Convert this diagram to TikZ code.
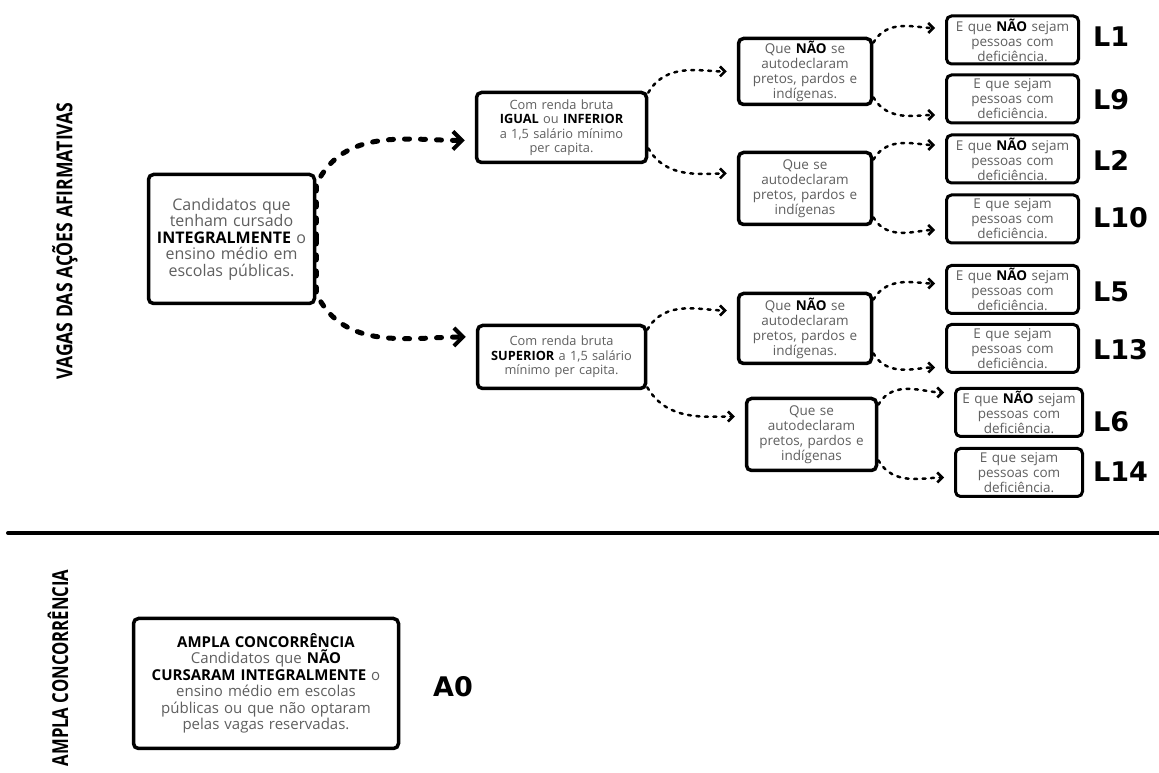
\documentclass[tikz,border=0pt]{standalone}
\usepackage{fontspec}
\setmainfont{Open Sans}
\newfontfamily\labelfont{DejaVu Sans}
\usetikzlibrary{arrows.meta}
\definecolor{txtgray}{RGB}{95,95,95}
\newcommand{\bk}[1]{\textbf{\color{black}#1}}
\begin{document}
\begin{tikzpicture}[x=1pt,y=1pt]
\tikzstyle{box}=[draw,line width=3.5pt,rounded corners=5pt,align=center,inner sep=0pt,text=txtgray,fill=white]
\tikzstyle{big}=[box,font=\fontsize{16}{16.5}\selectfont]
\tikzstyle{mid}=[box,font=\fontsize{13.5}{15}\selectfont]
\tikzstyle{sml}=[box,line width=3pt,font=\fontsize{13.5}{15}\selectfont,minimum height=48pt]
\tikzstyle{lab}=[anchor=west,inner sep=0pt,font=\labelfont\bfseries\fontsize{27}{27}\selectfont]
\tikzstyle{title}=[rotate=90,font=\bfseries\fontsize{22}{22}\selectfont]
\tikzstyle{thick arrow}=[line width=5pt,line cap=round,dash pattern=on 5pt off 11pt,-{Straight Barb[length=9pt,width=18pt,line width=4pt]},shorten >=10pt]
\tikzstyle{thin arrow}=[line width=2.5pt,line cap=round,dash pattern=on 3pt off 5.5pt,-{Straight Barb[length=5pt,width=10pt,line width=2.5pt]},shorten >=10pt]
\useasboundingbox (0,0) rectangle (1159,773);
\fill[white] (0,0) rectangle (1159,773);
% titles
\node[title](t1) at (65,532) {\scalebox{0.8}[1]{VAGAS DAS AÇÕES AFIRMATIVAS}};
\node[title,anchor=east](t2) at (58,207) {\scalebox{0.76}[1]{AMPLA CONCORRÊNCIA}};
\draw[line width=4pt,line cap=round] (8,240) -- (1170,240);
% boxes
\node[big,minimum width=166pt,minimum height=129pt,text width=166pt](c0) at (231.5,534) {Candidatos que\\tenham cursado\\\bk{INTEGRALMENTE} o\\ensino médio em\\escolas públicas.};
\node[mid,font=\fontsize{12.8}{14.5}\selectfont,minimum width=170pt,minimum height=70pt,text width=166pt](r1) at (561.5,645.5) {Com renda bruta\\\bk{IGUAL} ou \bk{INFERIOR}\\a 1,5 salário mínimo\\per capita.};
\node[mid,font=\fontsize{12.8}{14.5}\selectfont,minimum width=168pt,minimum height=63pt,text width=166pt](r2) at (561.5,416) {Com renda bruta\\\bk{SUPERIOR} a 1,5 salário\\mínimo per capita.};
\node[mid,minimum width=133pt,minimum height=66pt,text width=130pt](m1) at (805,701.5) {Que \bk{NÃO} se\\autodeclaram\\pretos, pardos e\\indígenas.};
\node[mid,minimum width=133pt,minimum height=72pt,text width=130pt](m2) at (805,584.5) {Que se\\autodeclaram\\pretos, pardos e\\indígenas};
\node[mid,minimum width=133pt,minimum height=70pt,text width=130pt](m3) at (805,444.5) {Que \bk{NÃO} se\\autodeclaram\\pretos, pardos e\\indígenas.};
\node[mid,minimum width=130pt,minimum height=72pt,text width=128pt](m4) at (811.5,338.5) {Que se\\autodeclaram\\pretos, pardos e\\indígenas};
\node[sml,minimum width=132pt,text width=132pt](d1) at (1012.5,733) {E que \bk{NÃO} sejam\\pessoas com\\deficiência.};
\node[sml,minimum width=132pt,text width=130pt](d2) at (1012.5,674) {E que sejam\\pessoas com\\deficiência.};
\node[sml,minimum width=132pt,text width=132pt](d3) at (1012.5,614) {E que \bk{NÃO} sejam\\pessoas com\\deficiência.};
\node[sml,minimum width=132pt,text width=130pt](d4) at (1012.5,554) {E que sejam\\pessoas com\\deficiência.};
\node[sml,minimum width=132pt,text width=132pt](d5) at (1012.5,483.5) {E que \bk{NÃO} sejam\\pessoas com\\deficiência.};
\node[sml,minimum width=132pt,text width=130pt](d6) at (1012.5,424.5) {E que sejam\\pessoas com\\deficiência.};
\node[sml,minimum width=127pt,text width=127pt](d7) at (1019,360.5) {E que \bk{NÃO} sejam\\pessoas com\\deficiência.};
\node[sml,minimum width=127pt,text width=125pt](d8) at (1019,300.5) {E que sejam\\pessoas com\\deficiência.};
\node[big,minimum width=265pt,minimum height=130pt,text width=262pt,font=\fontsize{15}{16.5}\selectfont](a0) at (266,89.5) {\bk{AMPLA CONCORRÊNCIA}\\Candidatos que \bk{NÃO}\\\bk{CURSARAM INTEGRALMENTE} o\\ensino médio em escolas\\públicas ou que não optaram\\pelas vagas reservadas.};
% labels
\node[lab](l1) at (1093,736) {L1};
\node[lab](l9) at (1093,673) {L9};
\node[lab](l2) at (1093,613) {L2};
\node[lab](l10) at (1093,555) {L10};
\node[lab](l5) at (1093,481) {L5};
\node[lab](l13) at (1093,423) {L13};
\node[lab](l6) at (1093,351) {L6};
\node[lab](l14) at (1093,301) {L14};
\node[lab](la0) at (433,86) {A0};
% arrows
\draw[thick arrow] (c0.east) -- ([yshift=-12pt]c0.north east) to[out=65,in=180] ([yshift=-13pt]r1.west);
\draw[thick arrow] (c0.east) -- ([yshift=12pt]c0.south east) to[out=-65,in=180] ([yshift=20pt]r2.west);
\draw[thin arrow] ([yshift=-2pt]r1.north east) to[out=60,in=180] (m1.west);
\draw[thin arrow] ([yshift=16pt]r1.south east) to[out=-60,in=180] ([yshift=15pt]m2.west);
\draw[thin arrow] ([yshift=-6pt]r2.north east) to[out=60,in=180] ([yshift=18pt]m3.west);
\draw[thin arrow] ([yshift=3pt]r2.south east) to[out=-60,in=180] ([yshift=18pt]m4.west);
\draw[thin arrow] ([yshift=-6pt]m1.north east) to[out=60,in=180] ([yshift=12pt]d1.west);
\draw[thin arrow] ([yshift=9pt]m1.south east) to[out=-60,in=180] ([yshift=-16pt]d2.west);
\draw[thin arrow] ([yshift=-9pt]m2.north east) to[out=60,in=180] ([yshift=14pt]d3.west);
\draw[thin arrow] ([yshift=9pt]m2.south east) to[out=-60,in=180] ([yshift=-11pt]d4.west);
\draw[thin arrow] ([yshift=-8pt]m3.north east) to[out=60,in=180] ([yshift=6pt]d5.west);
\draw[thin arrow] ([yshift=12pt]m3.south east) to[out=-60,in=180] ([yshift=-19pt]d6.west);
\draw[thin arrow] ([yshift=-8pt]m4.north east) to[out=60,in=180] ([yshift=20pt]d7.west);
\draw[thin arrow] ([yshift=12pt]m4.south east) to[out=-60,in=180] ([yshift=-5pt]d8.west);
\end{tikzpicture}
\end{document}
